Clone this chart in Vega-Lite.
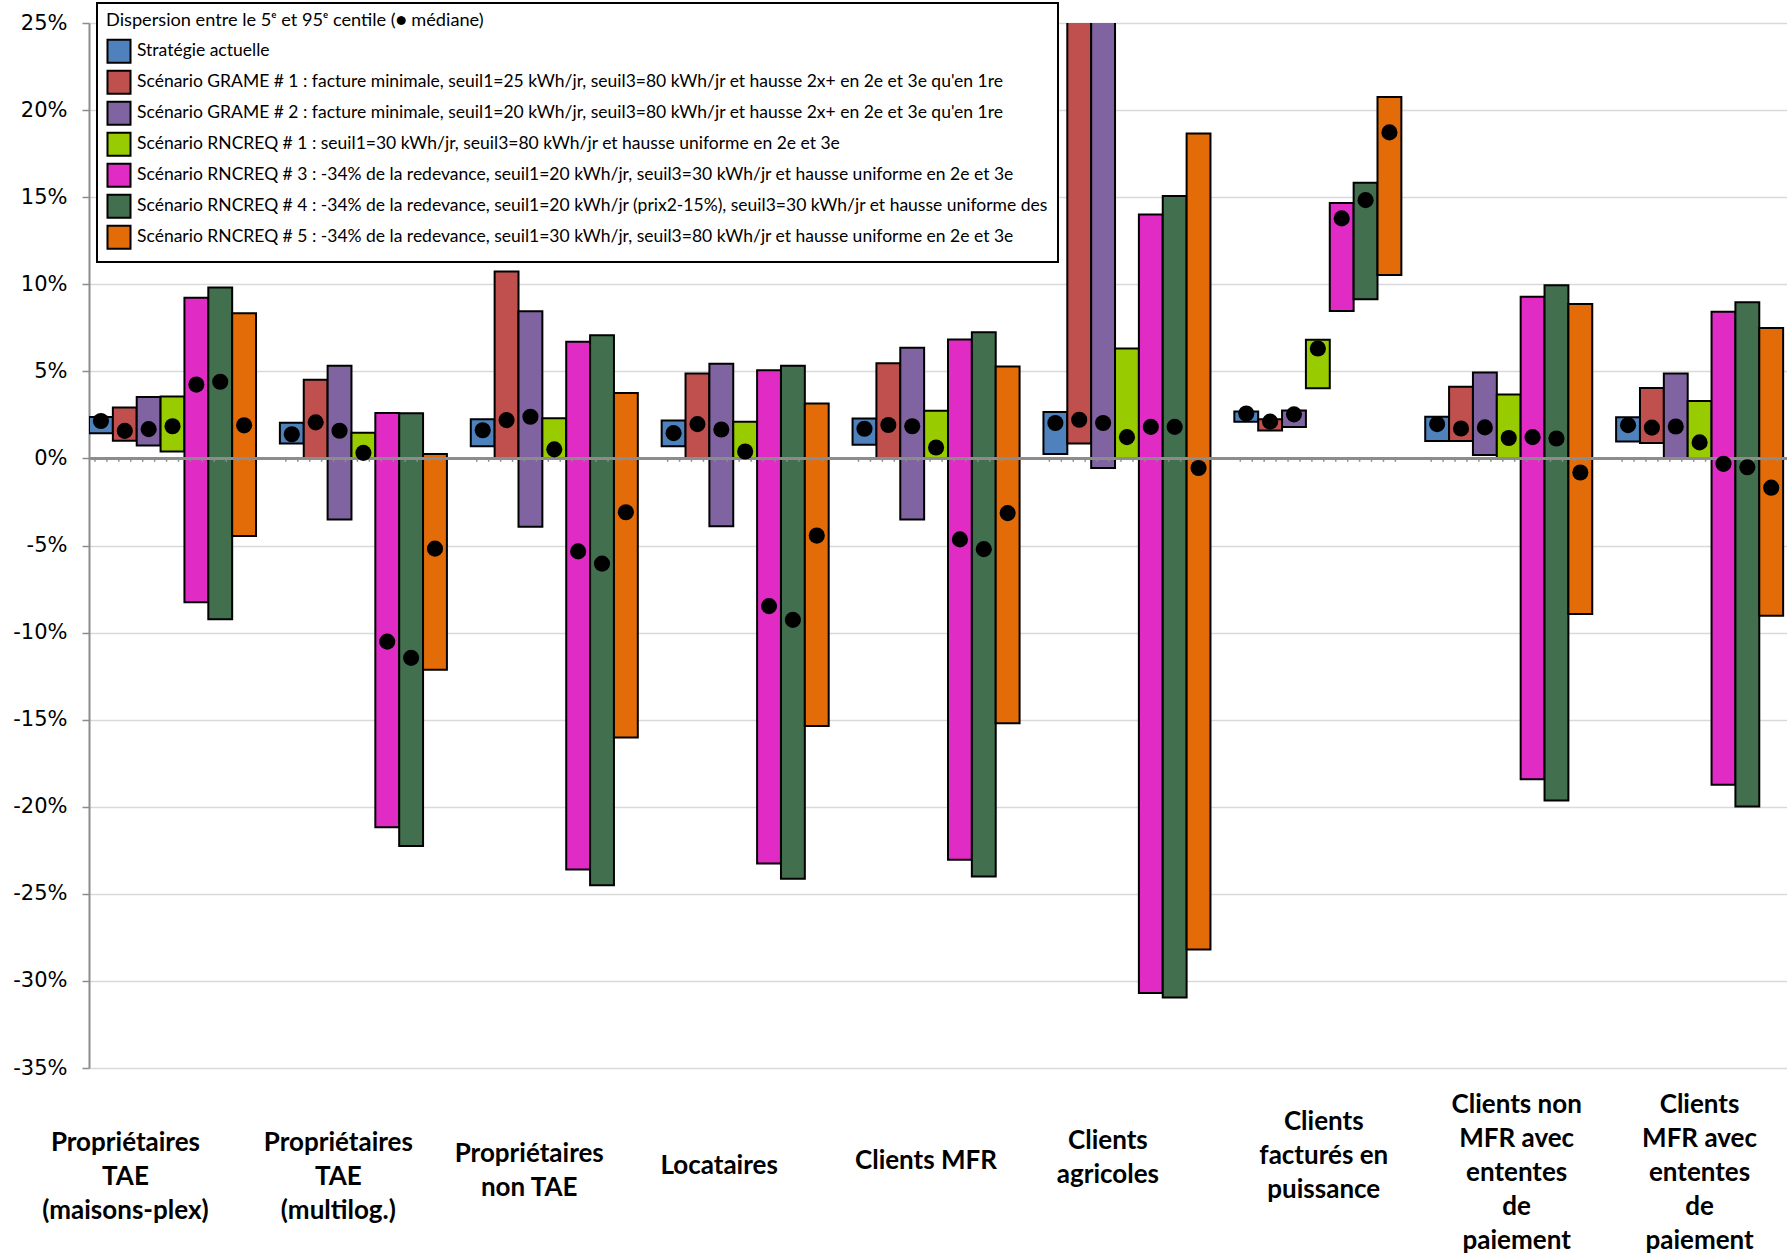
{
  "$schema": "https://vega.github.io/schema/vega-lite/v6.json",
  "autosize": {"type": "none"},
  "padding": {"left": 89, "top": 23, "right": 0, "bottom": 189},
  "width": 1698,
  "height": 1045,
  "background": "white",
  "config": {"view": {"stroke": null}, "legend": {"strokeWidth": 2}},
  "data": {"values": [
    {"g": "Propriétaires|TAE|(maisons-plex)", "s": "A", "lo": 1.45, "hi": 2.38, "med": 2.15},
    {"g": "Propriétaires|TAE|(maisons-plex)", "s": "B", "lo": 1.02, "hi": 2.92, "med": 1.58},
    {"g": "Propriétaires|TAE|(maisons-plex)", "s": "C", "lo": 0.74, "hi": 3.52, "med": 1.68},
    {"g": "Propriétaires|TAE|(maisons-plex)", "s": "D", "lo": 0.39, "hi": 3.55, "med": 1.85},
    {"g": "Propriétaires|TAE|(maisons-plex)", "s": "E", "lo": -8.26, "hi": 9.22, "med": 4.24},
    {"g": "Propriétaires|TAE|(maisons-plex)", "s": "F", "lo": -9.24, "hi": 9.82, "med": 4.4},
    {"g": "Propriétaires|TAE|(maisons-plex)", "s": "G", "lo": -4.45, "hi": 8.33, "med": 1.9},
    {"g": "Propriétaires|TAE|(multilog.)", "s": "A", "lo": 0.86, "hi": 2.05, "med": 1.39},
    {"g": "Propriétaires|TAE|(multilog.)", "s": "B", "lo": 0.0, "hi": 4.52, "med": 2.07},
    {"g": "Propriétaires|TAE|(multilog.)", "s": "C", "lo": -3.5, "hi": 5.32, "med": 1.59},
    {"g": "Propriétaires|TAE|(multilog.)", "s": "D", "lo": 0.0, "hi": 1.48, "med": 0.32},
    {"g": "Propriétaires|TAE|(multilog.)", "s": "E", "lo": -21.18, "hi": 2.61, "med": -10.52},
    {"g": "Propriétaires|TAE|(multilog.)", "s": "F", "lo": -22.25, "hi": 2.59, "med": -11.45},
    {"g": "Propriétaires|TAE|(multilog.)", "s": "G", "lo": -12.14, "hi": 0.25, "med": -5.18},
    {"g": "Propriétaires|non TAE", "s": "A", "lo": 0.7, "hi": 2.25, "med": 1.62},
    {"g": "Propriétaires|non TAE", "s": "B", "lo": 0.0, "hi": 10.73, "med": 2.2},
    {"g": "Propriétaires|non TAE", "s": "C", "lo": -3.93, "hi": 8.45, "med": 2.39},
    {"g": "Propriétaires|non TAE", "s": "D", "lo": 0.0, "hi": 2.3, "med": 0.52},
    {"g": "Propriétaires|non TAE", "s": "E", "lo": -23.6, "hi": 6.7, "med": -5.34},
    {"g": "Propriétaires|non TAE", "s": "F", "lo": -24.5, "hi": 7.07, "med": -6.04},
    {"g": "Propriétaires|non TAE", "s": "G", "lo": -16.02, "hi": 3.75, "med": -3.09},
    {"g": "Locataires", "s": "A", "lo": 0.7, "hi": 2.18, "med": 1.45},
    {"g": "Locataires", "s": "B", "lo": 0.0, "hi": 4.87, "med": 1.97},
    {"g": "Locataires", "s": "C", "lo": -3.89, "hi": 5.43, "med": 1.66},
    {"g": "Locataires", "s": "D", "lo": 0.0, "hi": 2.11, "med": 0.4},
    {"g": "Locataires", "s": "E", "lo": -23.26, "hi": 5.06, "med": -8.48},
    {"g": "Locataires", "s": "F", "lo": -24.14, "hi": 5.32, "med": -9.27},
    {"g": "Locataires", "s": "G", "lo": -15.36, "hi": 3.16, "med": -4.43},
    {"g": "Clients MFR", "s": "A", "lo": 0.78, "hi": 2.29, "med": 1.7},
    {"g": "Clients MFR", "s": "B", "lo": 0.0, "hi": 5.47, "med": 1.92},
    {"g": "Clients MFR", "s": "C", "lo": -3.51, "hi": 6.35, "med": 1.85},
    {"g": "Clients MFR", "s": "D", "lo": 0.0, "hi": 2.73, "med": 0.63},
    {"g": "Clients MFR", "s": "E", "lo": -23.04, "hi": 6.83, "med": -4.65},
    {"g": "Clients MFR", "s": "F", "lo": -24.0, "hi": 7.24, "med": -5.21},
    {"g": "Clients MFR", "s": "G", "lo": -15.21, "hi": 5.28, "med": -3.14},
    {"g": "Clients|agricoles", "s": "A", "lo": 0.26, "hi": 2.66, "med": 2.03},
    {"g": "Clients|agricoles", "s": "B", "lo": 0.85, "hi": 28.0, "med": 2.22},
    {"g": "Clients|agricoles", "s": "C", "lo": -0.55, "hi": 28.0, "med": 2.03},
    {"g": "Clients|agricoles", "s": "D", "lo": 0.0, "hi": 6.31, "med": 1.22},
    {"g": "Clients|agricoles", "s": "E", "lo": -30.7, "hi": 14.0, "med": 1.81},
    {"g": "Clients|agricoles", "s": "F", "lo": -30.95, "hi": 15.07, "med": 1.81},
    {"g": "Clients|agricoles", "s": "G", "lo": -28.2, "hi": 18.65, "med": -0.55},
    {"g": "Clients|facturés en|puissance", "s": "A", "lo": 2.11, "hi": 2.69, "med": 2.58},
    {"g": "Clients|facturés en|puissance", "s": "B", "lo": 1.61, "hi": 2.25, "med": 2.11},
    {"g": "Clients|facturés en|puissance", "s": "C", "lo": 1.81, "hi": 2.75, "med": 2.53},
    {"g": "Clients|facturés en|puissance", "s": "D", "lo": 4.03, "hi": 6.81, "med": 6.31},
    {"g": "Clients|facturés en|puissance", "s": "E", "lo": 8.47, "hi": 14.67, "med": 13.78},
    {"g": "Clients|facturés en|puissance", "s": "F", "lo": 9.14, "hi": 15.83, "med": 14.83},
    {"g": "Clients|facturés en|puissance", "s": "G", "lo": 10.53, "hi": 20.75, "med": 18.72},
    {"g": "Clients non|MFR avec|ententes|de|paiement", "s": "A", "lo": 1.0, "hi": 2.39, "med": 1.97},
    {"g": "Clients non|MFR avec|ententes|de|paiement", "s": "B", "lo": 1.0, "hi": 4.11, "med": 1.72},
    {"g": "Clients non|MFR avec|ententes|de|paiement", "s": "C", "lo": 0.19, "hi": 4.94, "med": 1.78},
    {"g": "Clients non|MFR avec|ententes|de|paiement", "s": "D", "lo": 0.0, "hi": 3.67, "med": 1.17},
    {"g": "Clients non|MFR avec|ententes|de|paiement", "s": "E", "lo": -18.42, "hi": 9.28, "med": 1.22},
    {"g": "Clients non|MFR avec|ententes|de|paiement", "s": "F", "lo": -19.64, "hi": 9.94, "med": 1.14},
    {"g": "Clients non|MFR avec|ententes|de|paiement", "s": "G", "lo": -8.94, "hi": 8.86, "med": -0.81},
    {"g": "Clients|MFR avec|ententes|de|paiement", "s": "A", "lo": 0.97, "hi": 2.36, "med": 1.91},
    {"g": "Clients|MFR avec|ententes|de|paiement", "s": "B", "lo": 0.88, "hi": 4.05, "med": 1.77},
    {"g": "Clients|MFR avec|ententes|de|paiement", "s": "C", "lo": 0.0, "hi": 4.87, "med": 1.83},
    {"g": "Clients|MFR avec|ententes|de|paiement", "s": "D", "lo": 0.0, "hi": 3.29, "med": 0.92},
    {"g": "Clients|MFR avec|ententes|de|paiement", "s": "E", "lo": -18.73, "hi": 8.42, "med": -0.31},
    {"g": "Clients|MFR avec|ententes|de|paiement", "s": "F", "lo": -19.98, "hi": 8.97, "med": -0.51},
    {"g": "Clients|MFR avec|ententes|de|paiement", "s": "G", "lo": -9.03, "hi": 7.49, "med": -1.68}
  ]},
  "encoding": {
    "x": {
      "field": "g", "type": "nominal", "sort": null,
      "scale": {
        "domain": ["Propriétaires|TAE|(maisons-plex)", "Propriétaires|TAE|(multilog.)", "Propriétaires|non TAE", "Locataires", "Clients MFR", "Clients|agricoles", "Clients|facturés en|puissance", "Clients non|MFR avec|ententes|de|paiement", "Clients|MFR avec|ententes|de|paiement"],
        "paddingInner": 0, "paddingOuter": 0, "range": [0, 1718]
      },
      "axis": {
        "title": null, "orient": "bottom", "domain": false, "ticks": false, "tickSize": 0, "grid": false,
        "labelAngle": 0, "labelAlign": "center", "labelBaseline": "middle",
        "labelExpr": "split(datum.label, '|')",
        "labelFont": "Lato", "labelFontWeight": "bold", "labelFontSize": 26, "labelLineHeight": 34,
        "labelColor": "black", "labelLimit": 400,
        "labelPadding": {"condition": [
          {"test": "datum.value === 'Propriétaires|TAE|(maisons-plex)'", "value": 74},
          {"test": "datum.value === 'Propriétaires|TAE|(multilog.)'", "value": 74},
          {"test": "datum.value === 'Propriétaires|non TAE'", "value": 85},
          {"test": "datum.value === 'Locataires'", "value": 97},
          {"test": "datum.value === 'Clients MFR'", "value": 92},
          {"test": "datum.value === 'Clients|agricoles'", "value": 72},
          {"test": "datum.value === 'Clients|facturés en|puissance'", "value": 53}
        ], "value": 36},
        "labelOffset": {"condition": [
          {"test": "datum.value === 'Propriétaires|TAE|(maisons-plex)'", "value": -59},
          {"test": "datum.value === 'Propriétaires|TAE|(multilog.)'", "value": -37},
          {"test": "datum.value === 'Propriétaires|non TAE'", "value": -37},
          {"test": "datum.value === 'Locataires'", "value": -38},
          {"test": "datum.value === 'Clients MFR'", "value": -22},
          {"test": "datum.value === 'Clients|agricoles'", "value": -31},
          {"test": "datum.value === 'Clients|facturés en|puissance'", "value": -6},
          {"test": "datum.value === 'Clients non|MFR avec|ententes|de|paiement'", "value": -4}
        ], "value": -12}
      }
    },
    "xOffset": {"field": "s", "type": "nominal", "scale": {"domain": ["A", "B", "C", "D", "E", "F", "G", "H"], "paddingInner": 0, "paddingOuter": 0}}
  },
  "layer": [
    {
      "mark": {"type": "bar", "stroke": "black", "strokeWidth": 2, "clip": true, "opacity": 1},
      "encoding": {
        "y": {
          "field": "lo", "type": "quantitative",
          "scale": {"domain": [-35, 25], "nice": false, "zero": false},
          "axis": {
            "title": null, "values": [-35, -30, -25, -20, -15, -10, -5, 0, 5, 10, 15, 20, 25],
            "labelExpr": "datum.value + '%'",
            "grid": true, "gridColor": "#D9D9D9", "gridWidth": 1.5,
            "domain": true, "domainColor": "#8C8C8C", "domainWidth": 2,
            "ticks": true, "tickColor": "#8C8C8C", "tickSize": 7, "tickWidth": 1.5,
            "labelFont": "DejaVu Sans", "labelFontSize": 21, "labelColor": "black", "labelPadding": 15
          }
        },
        "y2": {"field": "hi"},
        "color": {
          "field": "s", "type": "nominal",
          "scale": {"domain": ["A", "B", "C", "D", "E", "F", "G"], "range": ["#4F81BD", "#C0504D", "#8064A2", "#99CC00", "#E02CC5", "#42704F", "#E36C09"]},
          "legend": {
            "orient": "none", "legendX": 8, "legendY": -20, "direction": "vertical",
            "title": "Dispersion entre le 5ᵉ et 95ᵉ centile (● médiane)",
            "titleFont": "Lato", "titleFontSize": 18.2, "titleFontWeight": "normal", "titleColor": "black", "titlePadding": 8, "titleLimit": 1200,
            "labelFont": "Lato", "labelFontSize": 17.5, "labelColor": "black", "labelLimit": 1200, "labelOffset": 5,
            "symbolType": "square", "symbolSize": 530, "symbolStrokeColor": "black", "symbolStrokeWidth": 2, "symbolOpacity": 1,
            "rowPadding": -1, "padding": 9,
            "strokeColor": "black", "fillColor": "white",
            "labelExpr": "datum.label === 'A' ? 'Stratégie actuelle' : datum.label === 'B' ? 'Scénario GRAME # 1 : facture minimale, seuil1=25 kWh/jr, seuil3=80 kWh/jr et hausse 2x+ en 2e et 3e qu\\'en 1re' : datum.label === 'C' ? 'Scénario GRAME # 2 : facture minimale, seuil1=20 kWh/jr, seuil3=80 kWh/jr et hausse 2x+ en 2e et 3e qu\\'en 1re' : datum.label === 'D' ? 'Scénario RNCREQ # 1 : seuil1=30 kWh/jr, seuil3=80 kWh/jr et hausse uniforme en 2e et 3e' : datum.label === 'E' ? 'Scénario RNCREQ # 3 : -34% de la redevance, seuil1=20 kWh/jr, seuil3=30 kWh/jr et hausse uniforme en 2e et 3e' : datum.label === 'F' ? 'Scénario RNCREQ # 4 : -34% de la redevance, seuil1=20 kWh/jr (prix2-15%), seuil3=30 kWh/jr et hausse uniforme des' : 'Scénario RNCREQ # 5 : -34% de la redevance, seuil1=30 kWh/jr, seuil3=80 kWh/jr et hausse uniforme en 2e et 3e'"
          }
        }
      }
    },
    {
      "mark": {"type": "rule", "color": "#8C8C8C", "strokeWidth": 2.5},
      "encoding": {"y": {"datum": 0}, "x": null, "xOffset": null}
    },
    {
      "mark": {"type": "point", "shape": "M -0.5 0 L -0.5 0.27 M 0.5 0 L 0.5 0.27", "filled": false, "stroke": "#8C8C8C", "strokeWidth": 1.5, "size": 569, "opacity": 1},
      "encoding": {"y": {"datum": 0}}
    },
    {
      "mark": {"type": "point", "shape": "circle", "filled": true, "color": "black", "size": 260, "opacity": 1},
      "encoding": {"y": {"field": "med", "type": "quantitative"}}
    }
  ]
}
